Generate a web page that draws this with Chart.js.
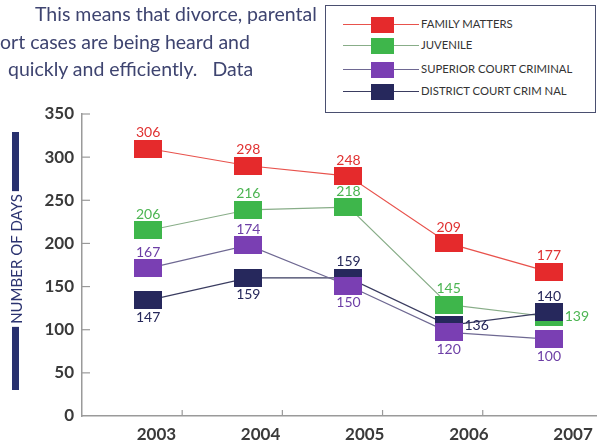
<!DOCTYPE html>
<html>
<head>
<meta charset="utf-8">
<script src="https://cdn.jsdelivr.net/npm/chart.js@4/dist/chart.umd.min.js"></script>
<style>
  html, body { margin: 0; padding: 0; background: #fff; }
  #wrap { position: relative; width: 601px; height: 441px; overflow: hidden; font-family: Lato, sans-serif; }
  #chart { position: absolute; left: 0; top: 0; }
  .para { position: absolute; font-size: 19.5px; color: #3e4470; white-space: pre; }
  #legend { position: absolute; left: 325px; top: 5px; width: 269px; height: 106px; border: 1.5px solid #4a4f70; background: #fff; }
  .row { position: absolute; left: 0; height: 18px; }
  .row .ln { position: absolute; left: 17px; top: 8px; width: 76px; height: 1.3px; }
  .row .sq { position: absolute; left: 45px; top: 1px; width: 23px; height: 16px; }
  .row .tx { position: absolute; left: 95px; top: 1px; font-size: 11.3px; color: #333; white-space: nowrap; }
</style>
</head>
<body>
<div id="wrap">
  <canvas id="chart" width="601" height="441"></canvas>
  <div class="para" style="left:35px;top:2px">This means that divorce, parental</div>
  <div class="para" style="left:0px;top:30px">ort cases are being heard and</div>
  <div class="para" style="left:8px;top:57px">quickly and efficiently.   Data</div>
  <div id="legend"></div>
</div>
<script>
const years = [2003, 2004, 2005, 2006, 2007]
const yTicks = [0, 50, 100, 150, 200, 250, 300, 350]

// marker positions as drawn, and the numbers printed next to them
const familyMatters = [310, 290, 278, 200, 167]
const juvenile = [215, 239, 242, 129, 115]
const superiorCriminal = [171, 198, 151, 97, 89]
const districtCriminal = [134, 160, 160, 105, 120]

const familyLabels = ["306", "298", "248", "209", "177"]
const juvenileLabels = ["206", "216", "218", "145", "139"]
const superiorLabels = ["167", "174", "150", "120", "100"]
const districtLabels = ["147", "159", "159", "136", "140"]

function box(color) {
  const c = document.createElement("canvas")
  c.width = 28
  c.height = 18
  const g = c.getContext("2d")
  g.fillStyle = color
  g.fillRect(0, 0, 28, 18)
  return c
}

function series(label, values, labels, place, fill, line, textColor, order) {
  return {
    label: label,
    data: years.map((y, i) => ({ x: y, y: values[i] })),
    printed: labels,
    place: place,
    textColor: textColor,
    fillColor: fill,
    borderColor: line,
    backgroundColor: fill,
    borderWidth: 1.2,
    pointStyle: box(fill),
    pointRadius: 10,
    tension: 0,
    order: order
  }
}

const datasets = [
  series("FAMILY MATTERS", familyMatters, familyLabels,
    ["t", "t", "t", "t", "t"], "#e52a2c", "#e8524c", "#e03232", 0),
  series("JUVENILE", juvenile, juvenileLabels,
    ["t", "t", "t", "t", "r"], "#3eb64b", "#88ad88", "#4cb552", 3),
  series("SUPERIOR COURT CRIMINAL", superiorCriminal, superiorLabels,
    ["t", "t", "b", "b", "b"], "#7a3fb3", "#6e6892", "#6d3fa6", 1),
  series("DISTRICT COURT CRIM NAL", districtCriminal, districtLabels,
    ["b", "b", "t", "r", "t"], "#26285c", "#3a3c60", "#25275a", 2)
]

// legend built from the datasets
const legend = document.getElementById("legend")
const rowTops = [10, 31, 55, 77]
datasets.forEach((d, i) => {
  const row = document.createElement("div")
  row.className = "row"
  row.style.top = rowTops[i] + "px"
  row.innerHTML = '<div class="ln" style="background:' + d.borderColor + '"></div>' +
    '<div class="sq" style="background:' + d.fillColor + '"></div>' +
    '<div class="tx">' + d.label + '</div>'
  legend.appendChild(row)
})

const pointLabels = {
  id: "pointLabels",
  afterDatasetsDraw(chart) {
    const ctx = chart.ctx
    ctx.save()
    ctx.font = "14px Lato"
    ctx.textAlign = "center"
    ctx.textBaseline = "middle"
    chart.data.datasets.forEach((d, i) => {
      chart.getDatasetMeta(i).data.forEach((pt, j) => {
        let x = pt.x, y = pt.y
        if (d.place[j] === "t") y -= 16
        else if (d.place[j] === "b") y += 17
        else x += 28
        ctx.fillStyle = d.textColor
        ctx.fillText(d.printed[j], x, y)
      })
    })
    ctx.restore()
  }
}

const axisDecor = {
  id: "axisDecor",
  afterDraw(chart) {
    const ctx = chart.ctx
    const ys = chart.scales.y, xs = chart.scales.x
    const a = chart.chartArea
    ctx.save()
    ctx.strokeStyle = "#9a9a9a"
    ctx.lineWidth = 1.2
    yTicks.slice(1).forEach(v => {
      const p = ys.getPixelForValue(v)
      ctx.beginPath()
      ctx.moveTo(a.left, p)
      ctx.lineTo(a.left + 8, p)
      ctx.stroke()
    })
    years.slice(0, 4).forEach(v => {
      const p = xs.getPixelForValue(v + 0.34)
      ctx.beginPath()
      ctx.moveTo(p, a.bottom)
      ctx.lineTo(p, a.bottom - 6)
      ctx.stroke()
    })
    // rotated axis title with bars
    const text = "NUMBER OF DAYS"
    ctx.font = "15px Lato"
    const w = ctx.measureText(text).width
    const cy = 259, cx = 16
    ctx.fillStyle = "#28306e"
    ctx.fillRect(cx - 4, 132, 7, (cy - w / 2 - 3) - 132)
    ctx.fillRect(cx - 4, cy + w / 2 + 3, 7, 390 - (cy + w / 2 + 3))
    ctx.translate(cx + 1, cy)
    ctx.rotate(-Math.PI / 2)
    ctx.textAlign = "center"
    ctx.textBaseline = "middle"
    ctx.fillStyle = "#2b3370"
    ctx.fillText(text, 0, 0)
    ctx.restore()
  }
}

const tickFont = { family: "Lato", size: 17, weight: "bold" }

new Chart(document.getElementById("chart"), {
  type: "line",
  data: { datasets: datasets },
  plugins: [pointLabels, axisDecor],
  options: {
    responsive: false,
    animation: false,
    layout: { autoPadding: false, padding: { top: 114, left: 0, right: -4, bottom: 0 } },
    plugins: {
      legend: { display: false },
      tooltip: { enabled: false }
    },
    scales: {
      x: {
        type: "linear",
        min: 2002.34,
        max: 2007.48,
        afterFit: s => { s.height = 0 },
        grid: { display: false, drawTicks: false },
        border: { display: true, color: "#9a9a9a", width: 1.5 },
        ticks: { display: false }
      },
      // the printed year labels are spaced a little wider than the markers
      xLabels: {
        type: "linear",
        position: "bottom",
        min: 2002.286,
        max: 2007.229,
        afterFit: s => { s.height = 25 },
        afterBuildTicks: s => { s.ticks = years.map(v => ({ value: v })) },
        grid: { display: false, drawTicks: false },
        border: { display: false },
        ticks: {
          padding: 8,
          color: "#3a3a3a",
          font: tickFont,
          callback: v => String(v)
        }
      },
      y: {
        min: 0,
        max: 350,
        afterFit: s => { s.width = 82 },
        afterBuildTicks: s => { s.ticks = yTicks.map(v => ({ value: v })) },
        grid: { display: false, drawTicks: false },
        border: { display: true, color: "#9a9a9a", width: 1.5 },
        ticks: {
          padding: 8,
          color: "#3a3a3a",
          font: tickFont
        }
      }
    }
  }
})
</script>
</body>
</html>
